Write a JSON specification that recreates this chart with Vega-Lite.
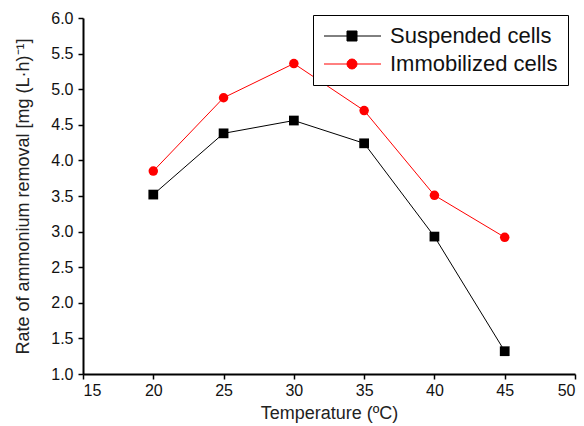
{
  "$schema": "https://vega.github.io/schema/vega-lite/v6.json",
  "width": 492,
  "height": 356,
  "autosize": "none",
  "padding": {"left": 83, "top": 18, "right": 9, "bottom": 52},
  "background": "white",
  "config": {
    "view": {"stroke": null},
    "font": "Liberation Sans",
    "axis": {
      "grid": false,
      "domainColor": "black",
      "domainWidth": 2,
      "tickColor": "black",
      "tickWidth": 1.5,
      "tickSize": 5,
      "labelFont": "Liberation Sans",
      "labelFontSize": 16,
      "labelColor": "#111",
      "titleFont": "Liberation Sans",
      "titleFontSize": 18,
      "titleFontWeight": "normal",
      "titleColor": "#222"
    }
  },
  "data": {
    "values": [
      {"temp": 20, "rate": 3.52, "series": "Suspended cells"},
      {"temp": 25, "rate": 4.38, "series": "Suspended cells"},
      {"temp": 30, "rate": 4.56, "series": "Suspended cells"},
      {"temp": 35, "rate": 4.24, "series": "Suspended cells"},
      {"temp": 40, "rate": 2.93, "series": "Suspended cells"},
      {"temp": 45, "rate": 1.32, "series": "Suspended cells"},
      {"temp": 20, "rate": 3.85, "series": "Immobilized cells"},
      {"temp": 25, "rate": 4.88, "series": "Immobilized cells"},
      {"temp": 30, "rate": 5.36, "series": "Immobilized cells"},
      {"temp": 35, "rate": 4.70, "series": "Immobilized cells"},
      {"temp": 40, "rate": 3.51, "series": "Immobilized cells"},
      {"temp": 45, "rate": 2.92, "series": "Immobilized cells"}
    ]
  },
  "encoding": {
    "x": {
      "field": "temp", "type": "quantitative",
      "scale": {"domain": [15, 50], "nice": false, "zero": false},
      "axis": {"values": [15, 20, 25, 30, 35, 40, 45, 50], "title": "Temperature (ºC)", "labelPadding": 3, "titlePadding": 6}
    },
    "y": {
      "field": "rate", "type": "quantitative",
      "scale": {"domain": [1, 6], "nice": false, "zero": false},
      "axis": {"values": [1, 1.5, 2, 2.5, 3, 3.5, 4, 4.5, 5, 5.5, 6], "format": ".1f", "title": "Rate of ammonium removal [mg (L·h)⁻¹]", "labelPadding": 5, "titlePadding": 18}
    },
    "color": {"field": "series", "type": "nominal", "scale": {"domain": ["Suspended cells", "Immobilized cells"], "range": ["#000000", "#ff0000"]},
      "legend": {
        "title": null, "orient": "none", "legendX": 230, "legendY": -3,
        "strokeColor": "black", "padding": 10, "fillColor": "white",
        "labelFont": "Liberation Sans", "labelFontSize": 22, "labelColor": "#111", "labelLimit": 300,
        "symbolSize": 400, "rowPadding": 6, "labelOffset": 45, "symbolOpacity": 1, "symbolStrokeWidth": 1,
        "encode": {
          "symbols": {"update": {
          "shape": {"signal": "datum.value == 'Suspended cells' ? 'M-1,0H4.7M1.3,-0.5H2.3V0.5H1.3Z' : 'M-1,0H4.7M2.3,0A0.5,0.5,0,1,1,1.3,0A0.5,0.5,0,1,1,2.3,0Z'"},
          "size": {"value": 400},
          "fill": {"scale": "color", "field": "value"},
          "stroke": {"scale": "color", "field": "value"},
          "strokeWidth": {"value": 1},
          "opacity": {"value": 1}
        }}}
      }
    }
  },
  "layer": [
    {
      "mark": {"type": "line", "strokeWidth": 1}
    },
    {
      "transform": [{"filter": "datum.series == 'Suspended cells'"}],
      "mark": {"type": "point", "shape": "square", "filled": true, "size": 95, "opacity": 1}
    },
    {
      "transform": [{"filter": "datum.series == 'Immobilized cells'"}],
      "mark": {"type": "point", "shape": "circle", "filled": true, "size": 90, "opacity": 1}
    }
  ]
}
